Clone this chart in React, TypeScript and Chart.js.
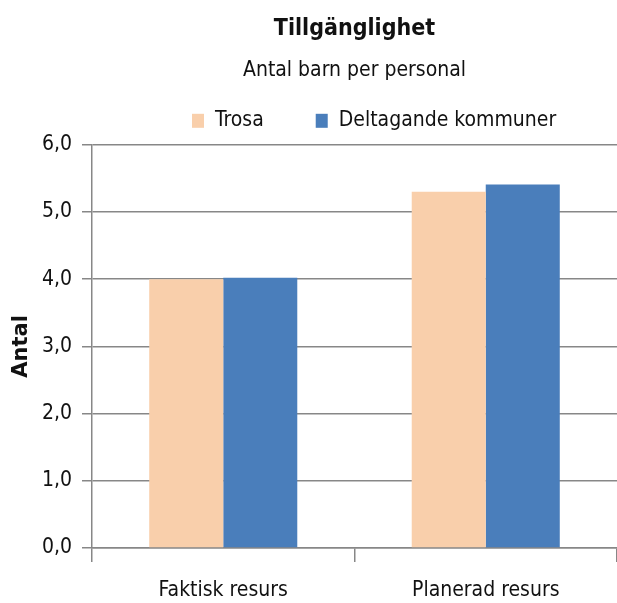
import React, { useEffect, useRef } from "react";
import { Chart, registerables } from "chart.js";

Chart.register(...registerables);

const categories = ["Faktisk resurs", "Planerad resurs"];
const trosaValues = [4.0, 5.3];
const deltagandeValues = [4.02, 5.41];
const seriesNames = ["Trosa", "Deltagande kommuner"];
const seriesColors = ["#F9CFAB", "#4A7EBB"];
const titleText = "Tillgänglighet";
const subtitleText = "Antal barn per personal";
const yAxisTitle = "Antal";
const yMin = 0;
const yMax = 6;
const yStep = 1;

const FONT = "'DejaVu Sans Condensed', 'DejaVu Sans', sans-serif";
const TEXT_COLOR = "#111";
const GRID_COLOR = "#878787";

const legendPlugin = {
  id: "headerLegend",
  afterDraw(chart: any) {
    const ctx = chart.ctx as CanvasRenderingContext2D;
    const y = chart.chartArea.top - 24;
    let x = 192;
    ctx.save();
    ctx.font = `21px ${FONT}`;
    ctx.textBaseline = "middle";
    ctx.textAlign = "left";
    chart.data.datasets.forEach((ds: any) => {
      ctx.fillStyle = ds.backgroundColor;
      ctx.fillRect(x, y - 7, 12, 14);
      ctx.fillStyle = TEXT_COLOR;
      ctx.fillText(ds.label, x + 23, y);
      x += 23 + ctx.measureText(ds.label).width + 52;
    });
    ctx.restore();
  },
};

export default function App() {
  const ref = useRef<HTMLCanvasElement | null>(null);

  useEffect(() => {
    document.body.style.margin = "0";
    const canvas = ref.current;
    if (!canvas) return;
    const chart = new Chart(canvas, {
      type: "bar",
      data: {
        labels: categories,
        datasets: [
          {
            label: seriesNames[0],
            data: trosaValues,
            backgroundColor: seriesColors[0],
            borderWidth: 0,
          },
          {
            label: seriesNames[1],
            data: deltagandeValues,
            backgroundColor: seriesColors[1],
            borderWidth: 0,
          },
        ],
      },
      options: {
        responsive: false,
        animation: false,
        maintainAspectRatio: false,
        layout: { padding: { top: 0, left: 0, right: 0, bottom: 0 } },
        datasets: {
          bar: { categoryPercentage: 0.564, barPercentage: 1.0 },
        },
        plugins: {
          title: {
            display: true,
            fullSize: false,
            text: titleText,
            color: TEXT_COLOR,
            font: { family: FONT, size: 23, weight: "bold" },
            padding: { top: 15, bottom: 5 },
          },
          subtitle: {
            display: true,
            fullSize: false,
            text: subtitleText,
            color: TEXT_COLOR,
            font: { family: FONT, size: 21, weight: "normal" },
            padding: { top: 10, bottom: 62 },
          },
          legend: { display: false },
          tooltip: { enabled: false },
        },
        scales: {
          x: {
            afterFit: (scale: any) => {
              scale.height = 55;
            },
            grid: {
              display: true,
              drawOnChartArea: false,
              drawTicks: true,
              tickLength: 14,
              offset: true,
              color: GRID_COLOR,
              lineWidth: 1.5,
            },
            border: { display: true, color: GRID_COLOR, width: 1.5 },
            ticks: {
              color: TEXT_COLOR,
              font: { family: FONT, size: 21 },
              padding: 16,
            },
          },
          y: {
            min: yMin,
            max: yMax,
            afterFit: (scale: any) => {
              scale.width = 92;
            },
            ticks: {
              stepSize: yStep,
              color: TEXT_COLOR,
              font: { family: FONT, size: 21 },
              padding: 10,
              callback: (v: any) => Number(v).toFixed(1).replace(".", ","),
            },
            grid: {
              color: GRID_COLOR,
              lineWidth: 1.5,
              drawTicks: true,
              tickLength: 10,
            },
            border: { display: true, color: GRID_COLOR, width: 1.5 },
            title: {
              display: true,
              text: yAxisTitle,
              color: TEXT_COLOR,
              font: { family: "'DejaVu Sans', sans-serif", size: 21, weight: "bold" },
              padding: { top: 9, bottom: 8 },
            },
          },
        },
      },
      plugins: [legendPlugin],
    });
    return () => chart.destroy();
  }, []);

  return (
    <div style={{ width: 617, height: 603, background: "#fff" }}>
      <canvas ref={ref} width={617} height={603} style={{ display: "block" }} />
    </div>
  );
}
